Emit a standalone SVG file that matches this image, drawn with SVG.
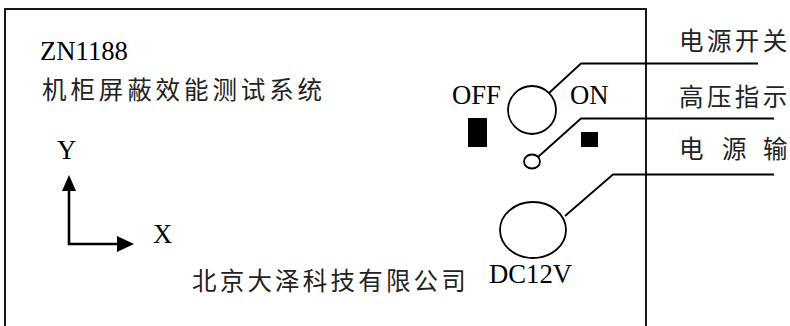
<svg xmlns="http://www.w3.org/2000/svg" width="790" height="326" viewBox="0 0 790 326">
<style>
.ln{fill:none;stroke:#000;stroke-width:1.8}
.lat{font-family:"Liberation Serif","Times New Roman",serif;font-size:26.7px;fill:#000}
.cjk{font-family:"Noto Sans CJK SC","Noto Sans CJK TC",sans-serif;font-size:24.5px;fill:#222;letter-spacing:3.4px}
.blk{fill:#000}
</style>
<rect width="790" height="326" fill="#fff"/>
<g id="panel">
<rect class="ln" x="5" y="9" width="641" height="340"/>
</g>
<g id="title">
<text class="lat" x="40" y="59.5">ZN1188</text>
<text class="cjk" x="42" y="99" style="letter-spacing:3.9px">机柜屏蔽效能测试系统</text>
</g>
<g id="axes">
<polyline class="ln" points="69,188 69,244 118,244" style="stroke-width:2.6"/>
<polygon class="blk" points="69,175 62,191 76,191"/>
<polygon class="blk" points="134,244 117,236 117,252"/>
<text class="lat" x="57" y="159">Y</text>
<text class="lat" x="153" y="243">X</text>
</g>
<g id="company">
<text class="cjk" x="192" y="290" style="letter-spacing:3.2px">北京大泽科技有限公司</text>
</g>
<g id="power-switch">
<circle class="ln" cx="532" cy="110" r="24"/>
<text class="lat" x="452" y="103.5">OFF</text>
<text class="lat" x="570" y="103.5">ON</text>
<rect class="blk" x="468" y="118" width="19" height="29"/>
<rect class="blk" x="581" y="132" width="17" height="15"/>
</g>
<g id="hv-indicator">
<ellipse class="ln" cx="532" cy="161.5" rx="8" ry="7"/>
</g>
<g id="dc-input">
<ellipse class="ln" cx="533" cy="230" rx="33" ry="28"/>
<text class="lat" x="489" y="282.5">DC12V</text>
</g>
<g id="labels">
<text class="cjk" x="679" y="50">电源开关</text>
<text class="cjk" x="679" y="106">高压指示</text>
<text class="cjk" x="679" y="158"><tspan x="679">电</tspan><tspan x="722">源</tspan><tspan x="763">输</tspan></text>
</g>
<g id="connectors">
<polyline class="ln" points="549,93 581,63.5 758,63.5"/>
<polyline class="ln" points="538,157 581,118.5 774,118.5"/>
<polyline class="ln" points="565,216 613,174.5 774,174.5"/>
</g>
</svg>
